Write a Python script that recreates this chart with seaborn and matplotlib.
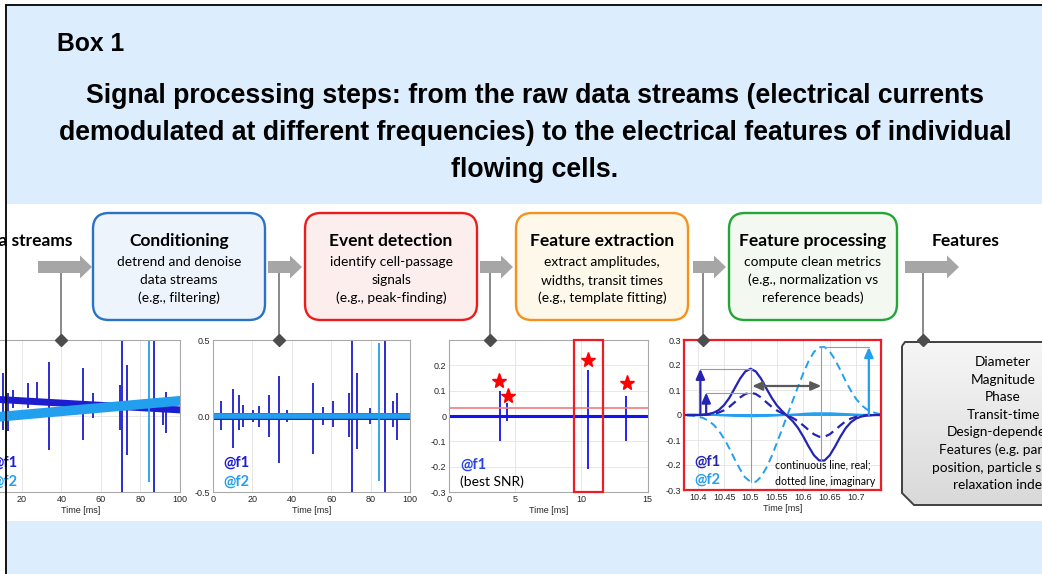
import numpy as np
import matplotlib
matplotlib.use("Agg")
import matplotlib.pyplot as plt
import matplotlib.patches as mpatches
import seaborn as sns

# ---- data ----
# flow chart
step_titles = ["Conditioning", "Event detection", "Feature extraction", "Feature processing"]
step_lines = [
    ["detrend and denoise", "data streams", "(e.g., filtering)"],
    ["identify cell-passage", "signals", "(e.g., peak-finding)"],
    ["extract amplitudes,", "widths, transit times", "(e.g., template fitting)"],
    ["compute clean metrics", "(e.g., normalization vs", "reference beads)"],
]
step_edge = ["#2a72c6", "#ee1b1b", "#f5921e", "#22a638"]
step_fill = ["#eef4fb", "#fdeeee", "#fef8ea", "#f3f8f0"]
feature_list = ["Diameter", "Magnitude", "Phase", "Transit-time", "Design-dependent",
                "Features (e.g. particle", "position, particle shape,", "relaxation index)"]

# panel 1: raw streams (0-100 ms)
raw_band_t = [0, 100]
raw_f1_level = [0.23, 0.08]
raw_f2_level = [-0.03, 0.2]
raw_spk_t = [10.4, 13.0, 15.8, 23.0, 27.8, 33.8, 50.9, 56.2, 69.5, 70.7, 73.0, 84.2, 87.0, 91.6, 93.0]
raw_spk_up = [0.57, 0.3, 0.34, 0.43, 0.45, 0.71, 0.63, 0.30, 0.41, 1.2, 0.67, 1.2, 1.2, 0.2, 0.32]
raw_spk_dn = [-0.18, -0.2, 0.1, 0.1, 0.14, -0.45, -0.32, -0.03, -0.18, -1.2, -0.51, -0.87, -1.2, -0.12, -0.22]
raw_spk_f2 = [False, False, False, False, False, False, False, False, False, False, False, True, False, False, False]

# panel 2: conditioned streams
cond_band_t = [0, 100]
cond_level = [0, 0]
cond_spk_t = [4.05, 10.5, 13.5, 15.5, 20.3, 23.6, 28.4, 33.8, 37.5, 51.0, 56.0, 61.0,
              69.0, 70.8, 73.0, 79.7, 84.5, 87.3, 91.2, 93.6]
cond_spk_up = [0.1, 0.18, 0.14, 0.07, 0.04, 0.065, 0.14, 0.26, 0.04, 0.22, 0.06, 0.1,
               0.15, 0.55, 0.28, 0.05, 0.48, 0.55, 0.1, 0.15]
cond_spk_dn = [-0.09, -0.21, -0.09, -0.07, -0.04, -0.07, -0.14, -0.31, -0.04, -0.25, -0.06, -0.07,
               -0.14, -0.55, -0.22, -0.05, -0.43, -0.55, -0.07, -0.16]
cond_spk_f2 = [False] * 16 + [True, False, False, False]

# panel 3: event detection (0-15 ms)
ev_band_t = [0, 15]
ev_level = [0, 0]
ev_spk_t = [3.85, 4.4, 10.48, 13.37]
ev_spk_up = [0.1, 0.05, 0.18, 0.08]
ev_spk_dn = [-0.1, -0.02, -0.21, -0.1]
star_t = [3.78, 4.48, 10.48, 13.43]
star_v = [0.137, 0.08, 0.22, 0.13]
threshold = 0.03
sel_window = [9.4, 11.6]
p3_yticks = [-0.3, -0.2, -0.1, 0, 0.1, 0.2]
p3_ylabels = ["-0.3", "-0.2", "-0.1", "0", "0.1", "0.2"]

# panel 4: one event, real / imaginary parts
tt = [10.38, 10.39, 10.40, 10.41, 10.42, 10.43, 10.44, 10.45, 10.46, 10.47,
      10.48, 10.49, 10.50, 10.51, 10.52, 10.53, 10.54, 10.55, 10.56, 10.57,
      10.58, 10.59, 10.60, 10.61, 10.62, 10.63, 10.64, 10.65, 10.66, 10.67,
      10.68, 10.69, 10.70, 10.71, 10.72, 10.73, 10.74, 10.75]
f1_re = [0.0, 0.0, 0.0, 0.001, 0.004, 0.009, 0.020, 0.040, 0.069, 0.107,
         0.145, 0.174, 0.185, 0.174, 0.145, 0.106, 0.069, 0.038, 0.015, -0.005,
         -0.025, -0.052, -0.087, -0.126, -0.161, -0.182, -0.182, -0.161, -0.126, -0.087,
         -0.053, -0.029, -0.014, -0.006, -0.002, -0.001, 0.0, 0.0]
f1_im = [0.0, 0.0, 0.0, 0.001, 0.002, 0.004, 0.010, 0.019, 0.033, 0.051,
         0.070, 0.084, 0.089, 0.084, 0.070, 0.051, 0.033, 0.018, 0.007, -0.002,
         -0.012, -0.025, -0.042, -0.060, -0.077, -0.087, -0.087, -0.077, -0.060, -0.042,
         -0.025, -0.014, -0.007, -0.003, -0.001, 0.0, 0.0, 0.0]
f2_re = [0.0, 0.0, 0.0, 0.0, 0.0, 0.0, -0.001, -0.002, -0.003, -0.004,
         -0.004, -0.005, -0.005, -0.005, -0.004, -0.004, -0.003, -0.002, -0.001, 0.0,
         0.002, 0.003, 0.005, 0.006, 0.007, 0.007, 0.007, 0.007, 0.006, 0.005,
         0.004, 0.003, 0.002, 0.001, 0.001, 0.0, 0.0, 0.0]
f2_im = [-0.001, -0.003, -0.006, -0.012, -0.022, -0.039, -0.063, -0.095, -0.134, -0.177,
         -0.217, -0.250, -0.267, -0.267, -0.247, -0.211, -0.165, -0.111, -0.055, 0.001,
         0.058, 0.114, 0.168, 0.216, 0.252, 0.271, 0.272, 0.254, 0.221, 0.180,
         0.136, 0.097, 0.064, 0.039, 0.023, 0.012, 0.006, 0.003]
amp_t = [10.405, 10.416, 10.724]
amp_v = [0.185, 0.09, 0.272]
amp_is_f2 = [False, False, True]
transit = [10.503, 10.634]
transit_y = 0.116
p4_xticks = [10.4, 10.45, 10.5, 10.55, 10.6, 10.65, 10.7]
p4_xlabels = ["10.4", "10.45", "10.5", "10.55", "10.6", "10.65", "10.7"]
p4_yticks = [-0.3, -0.2, -0.1, 0, 0.1, 0.2, 0.3]
p4_ylabels = ["-0.3", "-0.2", "-0.1", "0", "0.1", "0.2", "0.3"]

# ---- style ----
sns.set_theme(style="white")
plt.rcParams['font.family'] = ['Liberation Sans', 'DejaVu Sans']
plt.rcParams['axes.unicode_minus'] = False
plt.rcParams['text.color'] = 'black'
BOXFONT = ['Lato', 'DejaVu Sans']

C_F1 = "#1d1dcf"
C_F2 = "#22a0ee"
C_P3 = "#1212ee"
C_P4 = "#2424b4"
LIGHT_BG = "#dcedfd"
ARROW_GRAY = "#a6a6a6"

W, H = 1042, 574
fig = plt.figure(figsize=(W / 100, H / 100), dpi=100, facecolor="white")


def px_axes(x0, y0, x1, y1, **kw):
    return fig.add_axes([x0 / W, 1 - y1 / H, (x1 - x0) / W, (y1 - y0) / H], **kw)


bg = px_axes(0, 0, W, H, zorder=0)
bg.set_xlim(0, W)
bg.set_ylim(H, 0)
bg.axis("off")

# light blue areas and frame
bg.add_patch(mpatches.Rectangle((7, 6), W, 198, fc=LIGHT_BG, ec="none"))
bg.add_patch(mpatches.Rectangle((7, 521), W, 60, fc=LIGHT_BG, ec="none"))

bg.text(57, 44, "Box 1", fontsize=17.8, fontweight="bold", ha="left", va="center")
title_lines = ["Signal processing steps: from the raw data streams (electrical currents",
               "demodulated at different frequencies) to the electrical features of individual",
               "flowing cells."]
for i, line in enumerate(title_lines):
    bg.text(535, 96 + 37 * i, line, fontsize=19.2, fontweight="bold", ha="center", va="center")

# flow chart boxes
box_x = [(93, 265), (305, 477), (516, 688), (729, 897)]
for (x0, x1), ttl, lines, ec, fc in zip(box_x, step_titles, step_lines, step_edge, step_fill):
    bg.add_patch(mpatches.FancyBboxPatch((x0, 213), x1 - x0, 107,
                                         boxstyle="round,pad=0,rounding_size=16",
                                         fc=fc, ec=ec, lw=1.7))
    cx = (x0 + x1) / 2
    bg.text(cx, 241, ttl, fontsize=12.5, fontweight="bold", family=BOXFONT, ha="center", va="center")
    for j, ln in enumerate(lines):
        bg.text(cx, 262 + 18 * j, ln, fontsize=9.9, family=BOXFONT, ha="center", va="center")

bg.text(72, 241, "Data streams", fontsize=12.5, fontweight="bold", family=BOXFONT, ha="right", va="center")
bg.text(966, 241, "Features", fontsize=12.5, fontweight="bold", family=BOXFONT, ha="center", va="center")

# gray block arrows and connectors down to the panels
arrow_x = [(38, 92), (268, 302), (480, 513), (693, 726), (905, 959)]
conn_x = [61, 279, 490, 703, 923]
for (xa, xb), xc in zip(arrow_x, conn_x):
    bg.add_patch(mpatches.FancyArrow(xa, 267, xb - xa, 0, width=12, head_width=23, head_length=12,
                                     length_includes_head=True, fc=ARROW_GRAY, ec="none"))
    bg.plot([xc, xc], [273, 341], color="#7f7f7f", lw=1.3, solid_capstyle="butt")

# features box with cut corner and gradient fill
poly = mpatches.Polygon([(902, 346), (905, 342), (1120, 342), (1120, 505), (914, 505), (902, 493)],
                        closed=True, fc="none", ec="#404040", lw=1.4, zorder=3)
bg.add_patch(poly)
grad = np.linspace(0, 1, 100).reshape(-1, 1)
im = bg.imshow(grad, cmap=matplotlib.colors.LinearSegmentedColormap.from_list("g", ["#f6f6f6", "#d9d9d9"]),
               extent=(902, 1120, 505, 342), aspect="auto", origin="upper", zorder=2)
im.set_clip_path(poly)
bg.set_xlim(0, W)
bg.set_ylim(H, 0)
for k, item in enumerate(feature_list):
    bg.text(1003, 362 + 17.6 * k, item, fontsize=9.8, family=BOXFONT, ha="center", va="center", zorder=4)


def style_panel(ax, xlim, ylim, xticks, yticks):
    ax.set_xlim(xlim)
    ax.set_ylim(ylim)
    ax.set_xticks(xticks)
    ax.set_yticks(yticks)
    ax.grid(True, color="#e4e4e4", lw=0.6)
    ax.set_axisbelow(True)
    for s in ax.spines.values():
        s.set_visible(True)
        s.set_color("#a9a9a9")
        s.set_linewidth(0.8)
    ax.tick_params(labelsize=6.5, colors="#262626", length=2, direction="in", pad=2, width=0.5)
    ax.set_xlabel("Time [ms]", fontsize=6.5, labelpad=1.5, color="#262626")
    ax.set_ylabel("")


# ---- panel 1: raw data ----
ax1 = px_axes(-17.8, 340, 180, 492, zorder=2)
sns.lineplot(x=raw_band_t, y=raw_f1_level, ax=ax1, color=C_F1, lw=5)
for t, u, d, is2 in zip(raw_spk_t, raw_spk_up, raw_spk_dn, raw_spk_f2):
    if not is2:
        ax1.vlines(t, d, u, color=C_F1, lw=1.3)
sns.lineplot(x=raw_band_t, y=raw_f2_level, ax=ax1, color=C_F2, lw=7)
for t, u, d, is2 in zip(raw_spk_t, raw_spk_up, raw_spk_dn, raw_spk_f2):
    if is2:
        ax1.vlines(t, d, u, color=C_F2, lw=1.3)
style_panel(ax1, (0, 100), (-1, 1), [0, 20, 40, 60, 80, 100], [-1, 0, 1])
ax1.text(0.044, 0.19, "@f1", transform=ax1.transAxes, color=C_F1, fontsize=10.5, fontweight="bold",
         family=BOXFONT, va="center")
ax1.text(0.044, 0.066, "@f2", transform=ax1.transAxes, color=C_F2, fontsize=10.5, fontweight="bold",
         family=BOXFONT, va="center")

# ---- panel 2: conditioned ----
ax2 = px_axes(212.7, 340, 410, 492, zorder=2)
sns.lineplot(x=cond_band_t, y=cond_level, ax=ax2, color=C_F1, lw=5)
for t, u, d, is2 in zip(cond_spk_t, cond_spk_up, cond_spk_dn, cond_spk_f2):
    ax2.vlines(t, d, u, color=C_F2 if is2 else C_F1, lw=1.3)
sns.lineplot(x=cond_band_t, y=cond_level, ax=ax2, color=C_F2, lw=4)
style_panel(ax2, (0, 100), (-0.5, 0.5), [0, 20, 40, 60, 80, 100], [-0.5, 0, 0.5])
ax2.text(0.052, 0.19, "@f1", transform=ax2.transAxes, color=C_F1, fontsize=10.5, fontweight="bold",
         family=BOXFONT, va="center")
ax2.text(0.052, 0.066, "@f2", transform=ax2.transAxes, color=C_F2, fontsize=10.5, fontweight="bold",
         family=BOXFONT, va="center")

# ---- panel 3: event detection ----
ax3 = px_axes(449, 340, 647.7, 492, zorder=2)
sns.lineplot(x=ev_band_t, y=ev_level, ax=ax3, color=C_P3, lw=2.2)
ax3.vlines(ev_spk_t, ev_spk_dn, ev_spk_up, color=C_P3, lw=1.3)
ax3.axhline(threshold, color="#f47c7c", lw=1.2)
ax3.plot(star_t, star_v, ls="none", marker="*", ms=11, color="#ff0000", mec="#ff0000")
style_panel(ax3, (0, 15), (-0.3, 0.3), [0, 5, 10, 15], p3_yticks)
ax3.set_yticklabels(p3_ylabels)
ax3.add_patch(mpatches.Rectangle((sel_window[0], -0.3), sel_window[1] - sel_window[0], 0.6,
                                 fill=False, ec="#ee1c25", lw=1.6, clip_on=False, zorder=5))
ax3.text(0.055, 0.18, "@f1", transform=ax3.transAxes, color="#2a45e6", fontsize=10.5, fontweight="bold",
         family=BOXFONT, va="center")
ax3.text(0.055, 0.065, "(best SNR)", transform=ax3.transAxes, color="black", fontsize=10,
         family=BOXFONT, va="center")

# ---- panel 4: feature extraction ----
ax4 = px_axes(684, 340, 881, 490, zorder=2)
ax4.plot([10.374, 10.747], [0, 0], color=C_F2, lw=1.4)
sns.lineplot(x=tt, y=f2_im, ax=ax4, color=C_F2, lw=1.4, linestyle=(0, (4, 2.5)))
sns.lineplot(x=tt, y=f2_re, ax=ax4, color=C_F2, lw=1.4)
sns.lineplot(x=tt, y=f1_im, ax=ax4, color=C_P4, lw=1.6, linestyle=(0, (4, 2.5)))
sns.lineplot(x=tt, y=f1_re, ax=ax4, color=C_P4, lw=1.6)
ax4.plot([10.374, 10.41], [0, 0], color=C_P4, lw=1.6)
style_panel(ax4, (10.374, 10.747), (-0.3, 0.3), p4_xticks, p4_yticks)
ax4.set_xticklabels(p4_xlabels)
ax4.set_yticklabels(p4_ylabels)
for s in ax4.spines.values():
    s.set_color("#ee1c25")
    s.set_linewidth(1.6)
# guides for amplitudes and peak positions
g = "#9a9a9a"
ax4.plot([amp_t[0], transit[0]], [amp_v[0], amp_v[0]], color=g, lw=0.8)
ax4.plot([amp_t[1], transit[0]], [amp_v[1], amp_v[1]], color=g, lw=0.8)
ax4.plot([transit[1], amp_t[2]], [amp_v[2], amp_v[2]], color=g, lw=0.8)
ax4.plot([10.5, 10.5], [amp_v[0], -0.268], color=g, lw=0.8)
ax4.plot([transit[1], transit[1]], [amp_v[2], -0.185], color=g, lw=0.8)
for t, v, is2 in zip(amp_t, amp_v, amp_is_f2):
    ax4.annotate("", xy=(t, v), xytext=(t, 0),
                 arrowprops=dict(arrowstyle="-|>,head_length=0.5,head_width=0.22",
                                 color=C_F2 if is2 else C_P4, lw=1.6, shrinkA=0, shrinkB=0))
ax4.annotate("", xy=(transit[1], transit_y), xytext=(transit[0], transit_y),
             arrowprops=dict(arrowstyle="<|-|>,head_length=0.5,head_width=0.22",
                             color="#5a5a5a", lw=1.6, shrinkA=0, shrinkB=0))
ax4.text(0.055, 0.19, "@f1", transform=ax4.transAxes, color=C_P4, fontsize=10.5, fontweight="bold",
         family=BOXFONT, va="center")
ax4.text(0.055, 0.07, "@f2", transform=ax4.transAxes, color=C_F2, fontsize=10.5, fontweight="bold",
         family=BOXFONT, va="center")
ax4.text(10.547, -0.2, "continuous line, real;", fontsize=7.6, family=BOXFONT, va="center")
ax4.text(10.547, -0.265, "dotted line, imaginary", fontsize=7.6, family=BOXFONT, va="center")

# ---- overlay: frame lines and connector diamonds ----
top = px_axes(0, 0, W, H, zorder=6)
top.set_xlim(0, W)
top.set_ylim(H, 0)
top.axis("off")
top.patch.set_alpha(0)
top.plot([6, 6], [5, H], color="black", lw=1.3)
top.plot([6, W], [5, 5], color="black", lw=1.3)
top.plot(conn_x, [340] * 5, ls="none", marker="D", ms=6.5, color="#4d4d4d")

fig.savefig("out.png", dpi=100)
